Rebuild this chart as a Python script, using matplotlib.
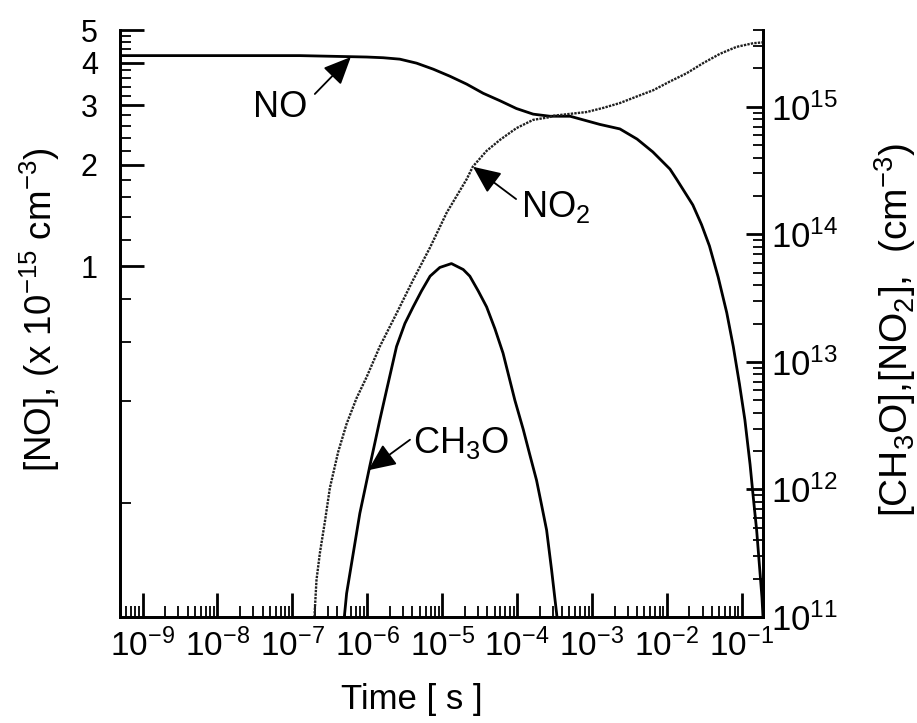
import matplotlib
matplotlib.use("Agg")
import matplotlib.pyplot as plt
from matplotlib.ticker import FixedLocator, NullFormatter, LogLocator

plt.rcParams["font.family"] = ["Liberation Sans", "DejaVu Sans"]
plt.rcParams["mathtext.fontset"] = "custom"
plt.rcParams["mathtext.rm"] = "Liberation Sans"

# ---- data ----
# [NO] in units of 1e15 cm^-3 (left axis)
t_no = [5.0e-10, 1.26e-7, 5.9e-7, 9.8e-7, 1.63e-6, 2.72e-6, 4.55e-6, 7.6e-6,
        1.27e-5, 2.12e-5, 3.53e-5, 5.9e-5, 9.8e-5, 1.64e-4, 2.74e-4, 5.1e-4,
        1.27e-3, 2.36e-3, 4.0e-3, 6.5e-3, 1.10e-2, 1.35e-2, 2.22e-2, 2.9e-2,
        3.7e-2, 4.84e-2, 6.3e-2, 7.7e-2, 9.3e-2, 0.110, 0.129, 0.142, 0.158,
        0.186, 0.192]
no = [4.2, 4.2, 4.17, 4.16, 4.14, 4.10, 3.99, 3.83,
      3.65, 3.46, 3.25, 3.09, 2.93, 2.82, 2.78, 2.78,
      2.63, 2.55, 2.38, 2.18, 1.94, 1.81, 1.52, 1.33,
      1.15, 0.93, 0.73, 0.58, 0.45, 0.352, 0.26, 0.209, 0.166,
      0.105, 0.092]

# [NO2] in cm^-3 (right axis)
t_no2 = [1.97e-7, 2.10e-7, 2.33e-7, 2.72e-7, 3.17e-7, 4.09e-7, 5.3e-7, 7.2e-7,
         9.8e-7, 1.47e-6, 2.46e-6, 4.1e-6, 6.9e-6, 1.15e-5, 2.12e-5, 2.57e-5,
         3.9e-5, 5.9e-5, 9.8e-5, 1.64e-4, 2.74e-4, 3.0e-4, 8.5e-4, 1.41e-3,
         2.36e-3, 3.9e-3, 6.6e-3, 1.10e-2, 1.83e-2, 3.05e-2, 5.1e-2, 8.5e-2,
         0.142, 0.192]
no2 = [1.0e11, 1.95e11, 3.17e11, 5.6e11, 1.03e12, 1.97e12, 3.27e12, 5.2e12,
       7.6e12, 1.32e13, 2.4e13, 4.4e13, 7.9e13, 1.48e14, 2.7e14, 3.4e14,
       4.5e14, 5.5e14, 6.8e14, 7.9e14, 8.3e14, 8.5e14, 9.1e14, 9.8e14,
       1.07e15, 1.2e15, 1.35e15, 1.58e15, 1.83e15, 2.2e15, 2.6e15, 2.95e15,
       3.15e15, 3.2e15]

# [CH3O] in cm^-3 (right axis)
t_ch3o = [4.94e-7, 5.3e-7, 6.5e-7, 7.96e-7, 9.3e-7, 1.08e-6, 1.26e-6, 1.47e-6,
          1.81e-6, 2.12e-6, 2.46e-6, 3.18e-6, 4.1e-6, 5.3e-6, 6.9e-6, 9.3e-6,
          1.33e-5, 1.91e-5, 2.34e-5, 3.03e-5, 3.92e-5, 5.06e-5, 6.5e-5, 9.35e-5,
          1.21e-4, 1.48e-4, 1.82e-4, 2.12e-4, 2.48e-4, 2.89e-4, 3.37e-4, 3.41e-4]
ch3o = [1.0e11, 1.53e11, 3.16e11, 6.5e11, 1.0e12, 1.52e12, 2.3e12, 3.5e12,
        6.0e12, 9.0e12, 1.32e13, 2.0e13, 2.7e13, 3.6e13, 4.7e13, 5.5e13,
        5.9e13, 5.3e13, 4.7e13, 3.6e13, 2.7e13, 1.82e13, 1.17e13, 5.0e12,
        2.95e12, 1.87e12, 1.18e12, 7.6e11, 4.8e11, 2.34e11, 1.07e11, 1.0e11]

x_ticks = [1e-9, 1e-8, 1e-7, 1e-6, 1e-5, 1e-4, 1e-3, 1e-2, 1e-1]
x_labels = [r"$\mathregular{10^{-9}}$", r"$\mathregular{10^{-8}}$",
            r"$\mathregular{10^{-7}}$", r"$\mathregular{10^{-6}}$",
            r"$\mathregular{10^{-5}}$", r"$\mathregular{10^{-4}}$",
            r"$\mathregular{10^{-3}}$", r"$\mathregular{10^{-2}}$",
            r"$\mathregular{10^{-1}}$"]
left_ticks = [1, 2, 3, 4, 5]
left_labels = ["1", "2", "3", "4", "5"]
left_minor = [0.2, 0.4, 0.6, 0.8, 1.2, 1.4, 1.6, 1.8, 2.2, 2.4, 2.6, 2.8,
              3.2, 3.4, 3.6, 3.8, 4.2, 4.4, 4.6, 4.8]
right_ticks = [1e11, 1e12, 1e13, 1e14, 1e15]
right_labels = [r"$\mathregular{10^{11}}$", r"$\mathregular{10^{12}}$",
                r"$\mathregular{10^{13}}$", r"$\mathregular{10^{14}}$",
                r"$\mathregular{10^{15}}$"]

fig = plt.figure(figsize=(9.17, 7.23), dpi=100)
ax = fig.add_axes([120 / 917, 1 - 617 / 723, 643 / 917, 587 / 723])
ax2 = ax.twinx()

ax.set_xscale("log")
ax.set_yscale("log")
ax2.set_yscale("log")
ax.set_xlim(5.0e-10, 0.192)
ax.set_ylim(0.092, 5.0)
ax2.set_ylim(1e11, 4.0e15)

ax.plot(t_no, no, color="black", lw=2.0)
ax2.plot(t_no2, no2, color="#202020", lw=1.7, linestyle=(0, (1.0, 0.5)))
ax2.plot(t_ch3o, ch3o, color="black", lw=2.0)

# ticks
ax.set_xticks(x_ticks)
ax.set_xticklabels(x_labels)
ax.xaxis.set_minor_locator(LogLocator(base=10, subs=range(2, 10), numticks=30))
ax.xaxis.set_minor_formatter(NullFormatter())
ax.set_yticks(left_ticks)
ax.set_yticklabels(left_labels)
ax.yaxis.set_minor_locator(FixedLocator(left_minor))
ax.yaxis.set_minor_formatter(NullFormatter())
ax2.set_yticks(right_ticks)
ax2.set_yticklabels(right_labels)
ax2.yaxis.set_minor_locator(LogLocator(base=10, subs=range(2, 10), numticks=30))
ax2.yaxis.set_minor_formatter(NullFormatter())

ax.tick_params(axis="x", which="major", direction="in", length=17, width=2,
               labelsize=24, pad=8)
ax.tick_params(axis="x", which="minor", direction="in", length=8, width=1.3)
ax.tick_params(axis="y", which="major", direction="in", length=17, width=2,
               labelsize=22, pad=16)
ax.tick_params(axis="y", which="minor", direction="in", length=8, width=1.3)
ax2.tick_params(axis="y", which="major", direction="in", length=12, width=2,
                labelsize=25, pad=6)
ax2.tick_params(axis="y", which="minor", direction="in", length=7, width=1.3)

for a in (ax, ax2):
    a.spines["top"].set_visible(False)
    for s in ("left", "right", "bottom"):
        a.spines[s].set_linewidth(2)

# axis titles
fig.text(412 / 917, 1 - 700 / 723, "Time [ s ]", fontsize=25,
         ha="center", va="center")
fig.text(40 / 917, 1 - 310 / 723,
         r"[NO], (x 10$^\mathregular{-15}$ cm$^\mathregular{-3}$)",
         fontsize=26.5, rotation=90, ha="center", va="center")
fig.text(895 / 917, 1 - 330 / 723,
         r"[CH$_\mathregular{3}$O],[NO$_\mathregular{2}$],  (cm$^\mathregular{-3}$)",
         fontsize=28, rotation=90, ha="center", va="center")

# curve labels with arrows (axes fractions)
arrow_kw = dict(arrowstyle="-|>,head_length=0.85,head_width=0.38",
                color="black", lw=1.3, mutation_scale=20,
                shrinkA=0, shrinkB=0)
ax.annotate("", xy=(0.359, 0.954), xytext=(0.303, 0.891),
            xycoords="axes fraction", arrowprops=arrow_kw)
ax.text(0.207, 0.852, "NO", transform=ax.transAxes, fontsize=26,
        ha="left", va="baseline")
ax.annotate("", xy=(0.549, 0.767), xytext=(0.616, 0.712),
            xycoords="axes fraction", arrowprops=arrow_kw)
ax.text(0.624, 0.681, r"NO$_\mathregular{2}$", transform=ax.transAxes,
        fontsize=26, ha="left", va="baseline")
ax.annotate("", xy=(0.386, 0.250), xytext=(0.451, 0.302),
            xycoords="axes fraction", arrowprops=arrow_kw)
ax.text(0.456, 0.279, r"CH$_\mathregular{3}$O", transform=ax.transAxes,
        fontsize=26, ha="left", va="baseline")

fig.savefig("out.png", dpi=100, facecolor="white")
